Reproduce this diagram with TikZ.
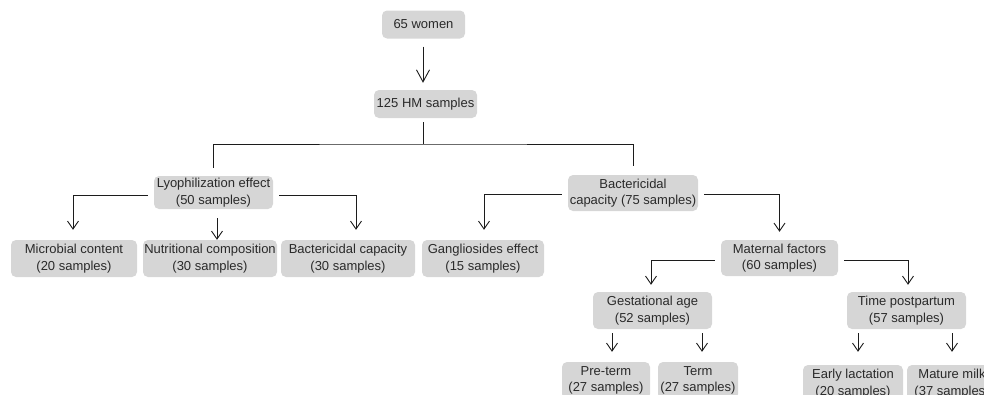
\documentclass[tikz,border=0pt]{standalone}
\usepackage{fontspec}
\setmainfont{Liberation Sans}
\usetikzlibrary{arrows.meta}
\definecolor{boxgray}{HTML}{D6D6D6}
\definecolor{txtgray}{HTML}{2A2A2A}
\definecolor{lngray}{HTML}{1C1C1C}
\newcommand{\bxfont}{\fontsize{13}{16.5}\selectfont}
\tikzset{
  box/.style={rounded corners=5pt, fill=boxgray, draw=none, align=center, inner sep=0pt, text=txtgray, font=\bxfont},
  ln/.style={draw=lngray, line width=1pt},
  arr/.style={ln, -{Straight Barb[length=8pt,width=11pt,line width=0.9pt]}},
  bigarr/.style={ln, -{Straight Barb[length=12pt,width=13pt,line width=0.9pt]}}
}
\begin{document}
\begin{tikzpicture}[x=1pt,y=-1pt]
\useasboundingbox (0,0) rectangle (984,394);
\clip (0,0) rectangle (984,394);
\node[box, minimum width=83pt, minimum height=28pt] (women) at (423.5,24.5) {65 women};
\node[box, minimum width=103pt, minimum height=28pt] (hm) at (425.5,104) {125 HM samples};
\node[box, minimum width=119pt, minimum height=33pt] (lyo) at (213.5,192.5) {Lyophilization effect\\(50 samples)};
\node[box, minimum width=126pt, minimum height=37pt] (mic) at (74,258.5) {Microbial content\\(20 samples)};
\node[box, minimum width=134pt, minimum height=37pt] (nut) at (210,258.5) {Nutritional composition\\(30 samples)};
\node[box, minimum width=134pt, minimum height=37pt] (bac1) at (348,258.5) {Bactericidal capacity\\(30 samples)};
\node[box, minimum width=130pt, minimum height=36pt] (bac2) at (633,193) {Bactericidal\\capacity (75 samples)};
\node[box, minimum width=122pt, minimum height=37pt] (gang) at (483,258.5) {Gangliosides effect\\(15 samples)};
\node[box, minimum width=117pt, minimum height=36pt] (mat) at (779.5,258) {Maternal factors\\(60 samples)};
\node[box, minimum width=119pt, minimum height=37pt] (gest) at (652.5,310.5) {Gestational age\\(52 samples)};
\node[box, minimum width=119pt, minimum height=37pt] (time) at (906.5,310.5) {Time postpartum\\(57 samples)};
\node[box, minimum width=88pt, minimum height=37pt] (pre) at (606,380.5) {Pre-term\\(27 samples)};
\node[box, minimum width=80pt, minimum height=37pt] (term) at (698,380.5) {Term\\(27 samples)};
\node[box, minimum width=100pt, minimum height=37pt] (early) at (853,383.5) {Early lactation\\(20 samples)};
\node[box, minimum width=90pt, minimum height=37pt] (mature) at (952,383.5) {Mature milk\\(37 samples)};
\coordinate (j1) at (423,144);
% connectors
\draw[bigarr, shorten <=8pt, shorten >=7pt] ([xshift=-0.5pt]women.south) -- ([xshift=-2.5pt]hm.north);
\draw[ln, shorten <=4pt] ([xshift=-2.5pt]hm.south) -- (j1);
\draw[ln] ([yshift=8pt]lyo.north) |- (j1) -| ([yshift=9pt]bac2.north);
\draw[arr, shorten <=6pt] ([yshift=-2.5pt]lyo.west) -| ([xshift=-1pt,yshift=10pt]mic.north);
\draw[arr, shorten <=9pt] ([xshift=3.5pt]lyo.south) -- ([xshift=3.5pt]lyo.south |- nut.north);
\draw[arr, shorten <=6pt] ([yshift=-2.5pt]lyo.east) -| ([xshift=8pt,yshift=10pt]bac1.north);
\draw[arr, shorten <=6pt] ([yshift=-1pt]bac2.west) -| ([xshift=1pt,yshift=10pt]gang.north);
\draw[arr, shorten <=6pt] ([yshift=-1pt]bac2.east) -| ([yshift=8pt]mat.north);
\draw[arr, shorten <=6pt] ([yshift=-2pt]mat.west) -| ([xshift=-1.5pt,yshift=7pt]gest.north);
\draw[arr, shorten <=6pt] ([yshift=-2pt]mat.east) -| ([xshift=1.5pt,yshift=7pt]time.north);
\draw[arr, shorten <=4pt] ([xshift=-40.5pt]gest.south) -- ([xshift=-40.5pt,yshift=10pt]gest.south |- pre.north);
\draw[arr, shorten <=4pt] ([xshift=49.5pt]gest.south) -- ([xshift=49.5pt,yshift=10pt]gest.south |- term.north);
\draw[arr, shorten <=4pt] ([xshift=-48.5pt]time.south) -- ([xshift=-48.5pt,yshift=13pt]time.south |- early.north);
\draw[arr, shorten <=4pt] ([xshift=45.5pt]time.south) -- ([xshift=45.5pt,yshift=13pt]time.south |- mature.north);
\end{tikzpicture}
\end{document}
